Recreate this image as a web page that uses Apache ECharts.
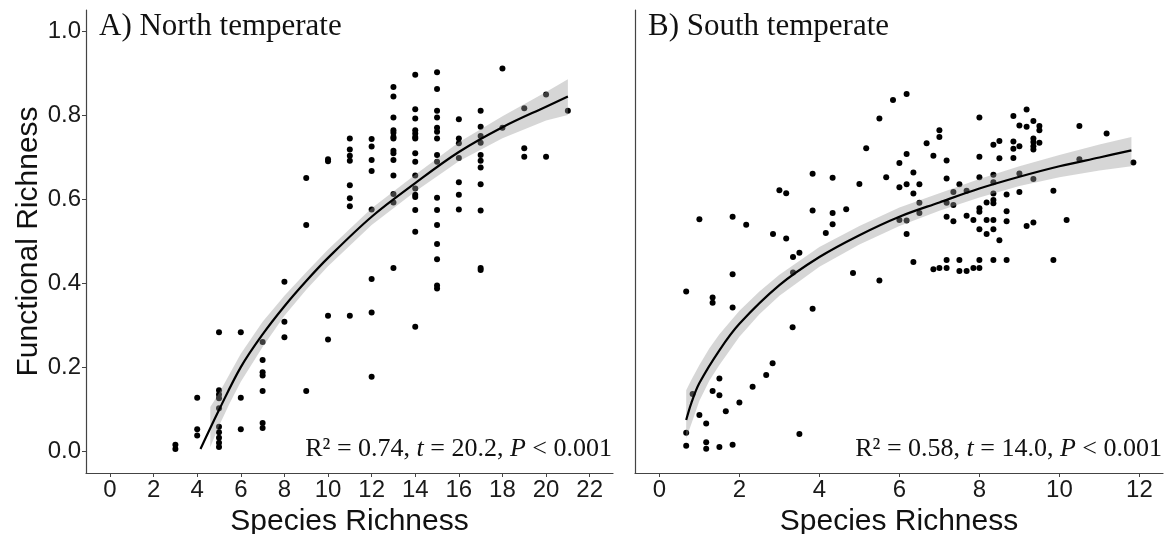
<!DOCTYPE html>
<html>
<head>
    <meta charset="utf-8">
    <title>Functional vs species richness</title>
    <script src="https://cdn.jsdelivr.net/npm/echarts@6.0.0/dist/echarts.min.js"></script>
    <style>
      html, body { margin: 0; padding: 0; background: #fff; }
      #main { width: 1172px; height: 534px; }
    </style>
</head>
<body>
    <div id="main"></div>
    <script type="text/javascript">
      // A) North temperate: points (species richness, functional richness)
      var northPoints = [
        [3,0.005],[3,0.015],
        [4,0.127],[4,0.052],[4,0.037],
        [5,0.283],[5,0.145],[5,0.135],[5,0.126],[5,0.102],[5,0.058],[5,0.045],[5,0.032],[5,0.02],[5,0.01],
        [6,0.283],[6,0.127],[6,0.052],
        [7,0.26],[7,0.217],[7,0.188],[7,0.18],[7,0.143],[7,0.067],[7,0.055],
        [8,0.403],[8,0.308],[8,0.271],
        [9,0.65],[9,0.538],[9,0.143],
        [10,0.695],[10,0.69],[10,0.322],[10,0.266],
        [11,0.744],[11,0.718],[11,0.703],[11,0.691],[11,0.633],[11,0.602],[11,0.583],[11,0.322],
        [12,0.743],[12,0.725],[12,0.693],[12,0.667],[12,0.575],[12,0.41],[12,0.33],[12,0.177],
        [13,0.867],[13,0.844],[13,0.794],[13,0.764],[13,0.758],[13,0.748],[13,0.744],[13,0.715],[13,0.709],[13,0.693],[13,0.656],[13,0.612],[13,0.592],[13,0.436],
        [14,0.896],[14,0.814],[14,0.792],[14,0.764],[14,0.756],[14,0.748],[14,0.744],[14,0.709],[14,0.689],[14,0.656],[14,0.625],[14,0.61],[14,0.605],[14,0.574],[14,0.522],[14,0.296],
        [15,0.902],[15,0.862],[15,0.81],[15,0.794],[15,0.77],[15,0.76],[15,0.744],[15,0.705],[15,0.689],[15,0.603],[15,0.574],[15,0.538],[15,0.493],[15,0.457],[15,0.394],[15,0.387],
        [16,0.79],[16,0.744],[16,0.733],[16,0.698],[16,0.64],[16,0.61],[16,0.575],
        [17,0.81],[17,0.772],[17,0.75],[17,0.734],[17,0.705],[17,0.691],[17,0.675],[17,0.635],[17,0.573],[17,0.436],[17,0.431],
        [18,0.911],[18,0.77],
        [19,0.816],[19,0.721],[19,0.701],
        [20,0.849],[20,0.701],
        [21,0.81]
      ];
      var northFitX = [4.15, 5, 6, 7, 8, 9, 10, 12, 14, 16, 18, 20, 21];
      var northFitY = [0.005, 0.098, 0.2, 0.278, 0.345, 0.405, 0.46, 0.558, 0.638, 0.712, 0.771, 0.82, 0.844];
      var northCiX  = [4.6, 5, 5.5, 6, 7, 8, 9, 10, 12, 14, 16, 18, 20, 21];
      var northCiLo = [0.01, 0.06, 0.115, 0.165, 0.248, 0.322, 0.384, 0.44, 0.538, 0.618, 0.69, 0.745, 0.787, 0.80];
      var northCiHi = [0.105, 0.138, 0.185, 0.232, 0.308, 0.37, 0.426, 0.48, 0.578, 0.658, 0.735, 0.797, 0.855, 0.885];

      // B) South temperate
      var southPoints = [
        [6.18,0.85],[5.84,0.836],[5.5,0.792],[5.17,0.721],[6.18,0.707],[6.0,0.686],[5.67,0.652],[5.0,0.636],[6.18,0.635],[6.0,0.628],
        [3.83,0.66],[4.33,0.651],[3.0,0.621],[3.17,0.614],[3.83,0.573],[4.33,0.567],[4.67,0.576],[4.33,0.54],[4.16,0.519],
        [1.0,0.552],[1.83,0.558],[2.17,0.539],[2.84,0.517],[3.17,0.506],[3.5,0.472],[3.34,0.462],[3.34,0.425],
        [6.0,0.55],[6.18,0.549],[6.18,0.517],[4.84,0.424],[5.5,0.406],[1.83,0.421],[0.67,0.38],[1.33,0.366],[1.33,0.353],
        [1.83,0.342],[3.83,0.339],[3.33,0.295],[2.83,0.209],[2.67,0.181],[2.33,0.153],[2.0,0.116],[1.66,0.095],[1.5,0.173],
        [1.33,0.143],[1.5,0.133],[0.83,0.136],[1.0,0.086],[1.17,0.066],[0.67,0.044],[0.67,0.013],[1.17,0.021],[1.17,0.006],
        [1.5,0.01],[1.83,0.015],[3.5,0.041],
        [8.0,0.794],[8.85,0.798],[9.18,0.813],[9.0,0.775],[9.18,0.772],[9.35,0.786],[9.5,0.774],[9.5,0.764],[10.5,0.774],
        [11.18,0.756],[7.0,0.764],[7.0,0.748],[6.68,0.733],[6.85,0.703],[7.18,0.692],[8.0,0.701],[8.35,0.729],[8.5,0.738],
        [8.85,0.737],[8.85,0.72],[9.0,0.726],[9.35,0.744],[9.35,0.736],[9.35,0.726],[9.35,0.718],[9.5,0.734],[8.5,0.697],
        [8.85,0.698],[6.35,0.663],[6.35,0.613],[6.5,0.635],[7.18,0.649],[7.5,0.635],[8.0,0.652],[8.35,0.658],[8.35,0.64],
        [9.0,0.661],[9.35,0.648],[10.5,0.695],[11.85,0.687],[7.35,0.617],[7.68,0.62],[8.35,0.613],[6.5,0.591],[6.5,0.567],
        [7.18,0.591],[7.35,0.586],[8.35,0.598],[8.35,0.59],[8.18,0.592],[8.68,0.611],[9.0,0.617],[9.85,0.62],[7.18,0.558],
        [7.35,0.547],[7.68,0.56],[7.85,0.55],[8.0,0.578],[8.0,0.57],[8.18,0.55],[8.35,0.55],[8.68,0.571],[8.68,0.547],
        [8.0,0.528],[8.18,0.517],[8.35,0.528],[8.5,0.502],[9.18,0.536],[9.35,0.544],[10.18,0.55],[6.35,0.45],[6.85,0.433],
        [7.0,0.436],[7.18,0.455],[7.18,0.436],[7.5,0.455],[7.5,0.429],[7.68,0.429],[7.85,0.436],[8.0,0.455],[8.0,0.436],
        [8.35,0.455],[8.68,0.455],[9.85,0.455]
      ];
      var southFitX = [0.67, 0.8, 1, 1.5, 2, 3, 4, 5, 6, 7, 8, 9, 10, 11, 11.8];
      var southFitY = [0.074, 0.115, 0.162, 0.24, 0.303, 0.395, 0.462, 0.514, 0.558, 0.592, 0.625, 0.653, 0.678, 0.699, 0.716];
      var southCiX  = [0.67, 0.8, 1, 1.25, 1.5, 2, 2.5, 3, 4, 5, 6, 7, 8, 9, 10, 11, 11.8];
      var southCiLo = [0.03, 0.065, 0.12, 0.168, 0.205, 0.272, 0.326, 0.37, 0.439, 0.492, 0.536, 0.572, 0.604, 0.631, 0.652, 0.668, 0.678];
      var southCiHi = [0.145, 0.17, 0.205, 0.245, 0.278, 0.334, 0.38, 0.42, 0.486, 0.536, 0.58, 0.614, 0.648, 0.678, 0.705, 0.73, 0.748];

      var northTicks = [0, 2, 4, 6, 8, 10, 12, 14, 16, 18, 20, 22];
      var southTicks = [0, 2, 4, 6, 8, 10, 12];
      var yTicks = [0, 0.2, 0.4, 0.6, 0.8, 1.0];

      var sans = 'Liberation Sans, Arial, sans-serif';
      var serif = 'Liberation Serif, Times New Roman, serif';

      function pairs(xs, ys) {
        return xs.map(function (x, i) { return [x, ys[i]]; });
      }

      // confidence ribbon as one polygon, corners placed by the axis scales
      function ribbon(idx, ciX, ciLo, ciHi) {
        return {
          type: 'custom', xAxisIndex: idx, yAxisIndex: idx, z: 3,
          data: [[ciX[0], ciLo[0]]],
          renderItem: function (params, api) {
            var pts = [];
            for (var i = 0; i < ciX.length; i++) pts.push(api.coord([ciX[i], ciHi[i]]));
            for (var j = ciX.length - 1; j >= 0; j--) pts.push(api.coord([ciX[j], ciLo[j]]));
            return {
              type: 'polygon',
              shape: { points: pts },
              style: { fill: 'rgba(153,153,153,0.4)', stroke: null }
            };
          }
        };
      }

      function panelSeries(idx, points, fitX, fitY, ciX, ciLo, ciHi) {
        return [
          {
            type: 'scatter', xAxisIndex: idx, yAxisIndex: idx,
            data: points, symbolSize: 6, z: 2,
            itemStyle: { color: '#000', opacity: 1 }
          },
          ribbon(idx, ciX, ciLo, ciHi),
          {
            type: 'line', xAxisIndex: idx, yAxisIndex: idx,
            data: pairs(fitX, fitY), symbol: 'none', smooth: 0.35, z: 4,
            lineStyle: { color: '#000', width: 2.2 }
          }
        ];
      }

      function xAxisOf(idx, min, max, ticks) {
        return {
          type: 'value', gridIndex: idx, min: min, max: max,
          splitLine: { show: false },
          axisLine: { onZero: false, lineStyle: { color: '#444', width: 1.2 } },
          axisTick: { length: 4, lineStyle: { color: '#444' }, customValues: ticks },
          axisLabel: { customValues: ticks, fontSize: 24, fontFamily: sans, color: '#1a1a1a', margin: 5 },
          name: 'Species Richness', nameLocation: 'middle', nameGap: 29,
          nameTextStyle: { fontSize: 30, fontFamily: sans, color: '#111' }
        };
      }

      var myChart = echarts.init(document.getElementById('main'), null, { renderer: 'canvas' });
      var option = {
        animation: false,
        backgroundColor: '#fff',
        grid: [
          { left: 86, top: 10, width: 527, height: 463, outerBoundsMode: 'none', containLabel: false },
          { left: 635, top: 10, width: 528, height: 463, outerBoundsMode: 'none', containLabel: false }
        ],
        xAxis: [
          xAxisOf(0, -1.1, 23.07, northTicks),
          xAxisOf(1, -0.61, 12.59, southTicks)
        ],
        yAxis: [
          {
            type: 'value', gridIndex: 0, min: -0.052, max: 1.05,
            splitLine: { show: false },
            axisLine: { show: true, onZero: false, lineStyle: { color: '#444', width: 1.2 } },
            axisTick: { show: true, length: 4, lineStyle: { color: '#444' }, customValues: yTicks },
            axisLabel: {
              customValues: yTicks, fontSize: 24, fontFamily: sans, color: '#1a1a1a', margin: 5,
              formatter: function (v) { return v.toFixed(1); }
            },
            name: 'Functional Richness', nameLocation: 'middle', nameGap: 42,
            nameTextStyle: { fontSize: 30, fontFamily: sans, color: '#111' }
          },
          {
            type: 'value', gridIndex: 1, min: -0.052, max: 1.05,
            splitLine: { show: false },
            axisLine: { show: true, onZero: false, lineStyle: { color: '#444', width: 1.2 } },
            axisTick: { show: false },
            axisLabel: { show: false }
          }
        ],
        graphic: [
          {
            type: 'text', x: 99, y: 27,
            style: { text: 'A) North temperate', fontSize: 31, fontFamily: serif, fill: '#111', verticalAlign: 'middle' }
          },
          {
            type: 'text', x: 648, y: 27,
            style: { text: 'B) South temperate', fontSize: 31, fontFamily: serif, fill: '#111', verticalAlign: 'middle' }
          },
          {
            type: 'text', x: 612, y: 449,
            style: {
              text: 'R² = 0.74, {i|t} = 20.2, {i|P} < 0.001',
              fontSize: 26, fontFamily: serif, fill: '#111', align: 'right', verticalAlign: 'middle',
              rich: { i: { fontStyle: 'italic', fontSize: 26, fontFamily: serif, fill: '#111' } }
            }
          },
          {
            type: 'text', x: 1162, y: 449,
            style: {
              text: 'R² = 0.58, {i|t} = 14.0, {i|P} < 0.001',
              fontSize: 26, fontFamily: serif, fill: '#111', align: 'right', verticalAlign: 'middle',
              rich: { i: { fontStyle: 'italic', fontSize: 26, fontFamily: serif, fill: '#111' } }
            }
          }
        ],
        series: [].concat(
          panelSeries(0, northPoints, northFitX, northFitY, northCiX, northCiLo, northCiHi),
          panelSeries(1, southPoints, southFitX, southFitY, southCiX, southCiLo, southCiHi)
        )
      };
      myChart.setOption(option);
    </script>
</body>
</html>
